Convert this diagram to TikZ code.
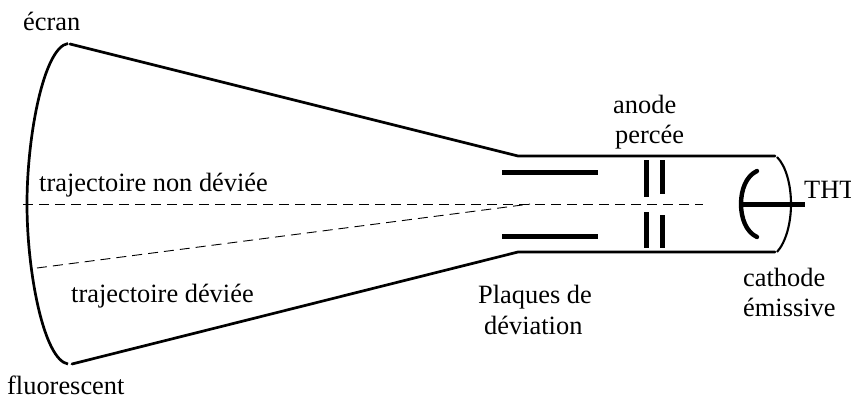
\documentclass[tikz,border=0pt]{standalone}
\usepackage{fontspec}
\setmainfont{Liberation Serif}
\begin{document}
\begin{tikzpicture}[x=1pt,y=-1pt,
  lab/.style={anchor=base west,inner sep=0pt,font=\fontsize{26.4}{30}\selectfont},
  tube/.style={line width=2.7pt,line cap=round},
  plate/.style={line width=5pt},
  ray/.style={line width=0.9pt,dash pattern=on 10pt off 6pt}]
\useasboundingbox (0,0) rectangle (851,399);
\clip (0,0) rectangle (851,399);
% envelope
\coordinate (st) at (70,44);
\coordinate (sb) at (72,364);
\coordinate (nt) at (518,156);
\coordinate (nb) at (518,252);
\coordinate (et) at (775,156);
\coordinate (eb) at (775,252);
\draw[tube] (st) -- (nt) -- (et);
\draw[tube] (sb) -- (nb) -- (eb);
\draw[line width=2.7pt] (68,43.5) .. controls (44,47) and (27,135) .. (27,204) .. controls (27,273) and (44,360) .. (68,364);
\draw[line width=2.1pt] (777,157) .. controls (786,166) and (791,185) .. (791,204) .. controls (791,223) and (786,242) .. (777,252);
% rays
\coordinate (ra) at (23,204);
\coordinate (rb) at (703,204);
\coordinate (da) at (37,268);
\coordinate (db) at (530,204);
\draw[ray] (ra) -- (rb);
\draw[ray] (da) -- (db);
% deflection plates
\draw[plate] (502,172.5) -- (598,172.5);
\draw[plate] (502,236.5) -- (598,236.5);
% anode
\draw[plate] (646,160) -- (646,197);
\draw[plate] (662.5,160) -- (662.5,194);
\draw[plate] (646,212) -- (646,248);
\draw[plate] (662.5,215) -- (662.5,248);
% cathode
\draw[line width=4.4pt,line cap=round] (757,171) .. controls (746,176) and (741,190) .. (741,204) .. controls (741,218) and (746,232) .. (757,237);
\draw[line width=4.6pt] (741,204.5) -- (805,204.5);
% labels
\node[lab] (l1) at (23,30) {écran};
\node[lab] (l2) at (7,394.5) {fluorescent};
\node[lab] (l3) at (39,191) {trajectoire non déviée};
\node[lab] (l4) at (71,302) {trajectoire déviée};
\node[lab] (l5) at (478,303) {Plaques de};
\node[lab] (l6) at (484,334) {déviation};
\node[lab] (l7) at (613,113) {anode};
\node[lab] (l8) at (615,143) {percée};
\node[lab] (l9) at (804,198) {THT};
\node[lab] (l10) at (743,286) {cathode};
\node[lab] (l11) at (743,316) {émissive};
\end{tikzpicture}
\end{document}
